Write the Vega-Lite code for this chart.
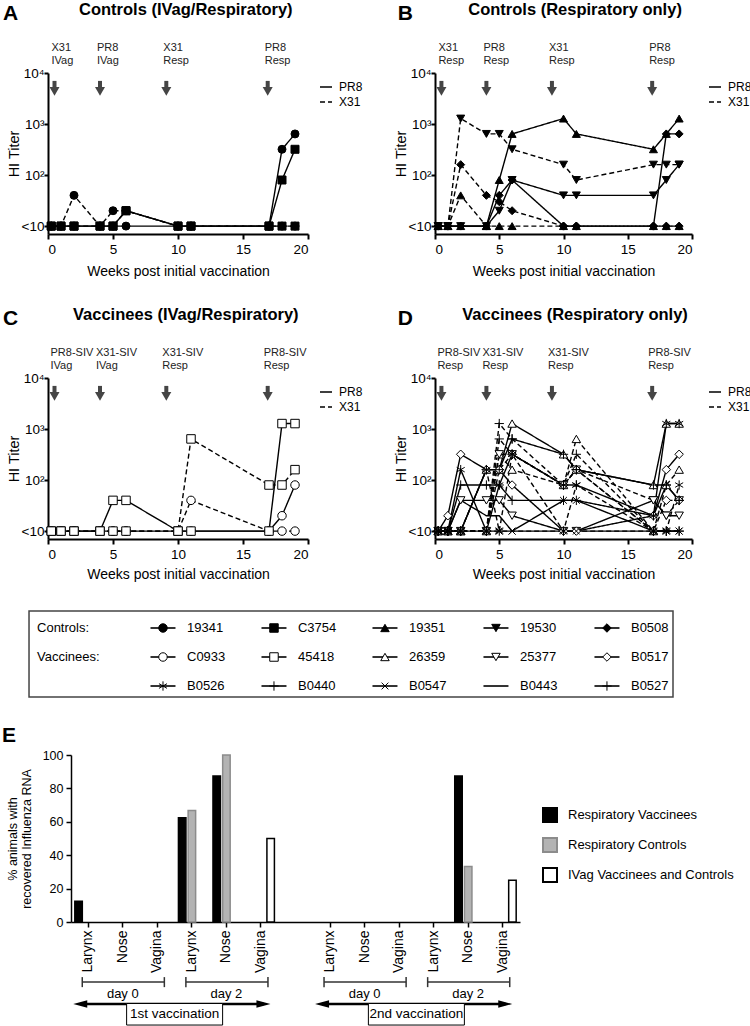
{
"$schema": "https://vega.github.io/schema/vega-lite/v6.json",
"background": "white",
"padding": {"left": 1, "top": 2, "right": 1, "bottom": 1},
"config": {
  "font": "Liberation Sans",
  "view": {"stroke": null},
  "axis": {"domainColor": "black", "tickColor": "black", "labelColor": "black", "titleColor": "black", "grid": false, "domainWidth": 2, "tickWidth": 2, "tickSize": 5, "labelFontSize": 13.5, "titleFontSize": 14, "titleFontWeight": "normal", "labelFont": "Liberation Sans", "titleFont": "Liberation Sans", "labelOverlap": false},
  "axisQuantitative": {"labelOverlap": false},
  "legend": {"labelFont": "Liberation Sans", "labelColor": "black"},
  "text": {"font": "Liberation Sans", "color": "black"}
},
"datasets": {
"hi": [
{"p":"A","a":"19341","s":"PR8","g":"c","w":0.25,"t":10},{"p":"A","a":"19341","s":"PR8","g":"c","w":1,"t":10},{"p":"A","a":"19341","s":"PR8","g":"c","w":2,"t":10},{"p":"A","a":"19341","s":"PR8","g":"c","w":4,"t":10},{"p":"A","a":"19341","s":"PR8","g":"c","w":5,"t":10},{"p":"A","a":"19341","s":"PR8","g":"c","w":6,"t":10},{"p":"A","a":"19341","s":"PR8","g":"c","w":10,"t":10},{"p":"A","a":"19341","s":"PR8","g":"c","w":11,"t":10},{"p":"A","a":"19341","s":"PR8","g":"c","w":17,"t":10},{"p":"A","a":"19341","s":"PR8","g":"c","w":18,"t":320},{"p":"A","a":"19341","s":"PR8","g":"c","w":19,"t":640},
{"p":"A","a":"19341","s":"X31","g":"c","w":0.25,"t":10},{"p":"A","a":"19341","s":"X31","g":"c","w":1,"t":10},{"p":"A","a":"19341","s":"X31","g":"c","w":2,"t":40},{"p":"A","a":"19341","s":"X31","g":"c","w":4,"t":10},{"p":"A","a":"19341","s":"X31","g":"c","w":5,"t":20},{"p":"A","a":"19341","s":"X31","g":"c","w":6,"t":20},{"p":"A","a":"19341","s":"X31","g":"c","w":10,"t":10},{"p":"A","a":"19341","s":"X31","g":"c","w":11,"t":10},{"p":"A","a":"19341","s":"X31","g":"c","w":17,"t":10},{"p":"A","a":"19341","s":"X31","g":"c","w":18,"t":10},{"p":"A","a":"19341","s":"X31","g":"c","w":19,"t":10},
{"p":"A","a":"C3754","s":"PR8","g":"c","w":0.25,"t":10},{"p":"A","a":"C3754","s":"PR8","g":"c","w":1,"t":10},{"p":"A","a":"C3754","s":"PR8","g":"c","w":2,"t":10},{"p":"A","a":"C3754","s":"PR8","g":"c","w":4,"t":10},{"p":"A","a":"C3754","s":"PR8","g":"c","w":5,"t":10},{"p":"A","a":"C3754","s":"PR8","g":"c","w":6,"t":20},{"p":"A","a":"C3754","s":"PR8","g":"c","w":10,"t":10},{"p":"A","a":"C3754","s":"PR8","g":"c","w":11,"t":10},{"p":"A","a":"C3754","s":"PR8","g":"c","w":17,"t":10},{"p":"A","a":"C3754","s":"PR8","g":"c","w":18,"t":80},{"p":"A","a":"C3754","s":"PR8","g":"c","w":19,"t":320},
{"p":"A","a":"C3754","s":"X31","g":"c","w":0.25,"t":10},{"p":"A","a":"C3754","s":"X31","g":"c","w":1,"t":10},{"p":"A","a":"C3754","s":"X31","g":"c","w":2,"t":10},{"p":"A","a":"C3754","s":"X31","g":"c","w":4,"t":10},{"p":"A","a":"C3754","s":"X31","g":"c","w":5,"t":10},{"p":"A","a":"C3754","s":"X31","g":"c","w":6,"t":20},{"p":"A","a":"C3754","s":"X31","g":"c","w":10,"t":10},{"p":"A","a":"C3754","s":"X31","g":"c","w":11,"t":10},{"p":"A","a":"C3754","s":"X31","g":"c","w":17,"t":10},{"p":"A","a":"C3754","s":"X31","g":"c","w":18,"t":10},{"p":"A","a":"C3754","s":"X31","g":"c","w":19,"t":10},
{"p":"B","a":"19351","s":"PR8","g":"c","w":0.25,"t":10},{"p":"B","a":"19351","s":"PR8","g":"c","w":1,"t":10},{"p":"B","a":"19351","s":"PR8","g":"c","w":2,"t":10},{"p":"B","a":"19351","s":"PR8","g":"c","w":4,"t":10},{"p":"B","a":"19351","s":"PR8","g":"c","w":5,"t":80},{"p":"B","a":"19351","s":"PR8","g":"c","w":6,"t":640},{"p":"B","a":"19351","s":"PR8","g":"c","w":10,"t":1280},{"p":"B","a":"19351","s":"PR8","g":"c","w":11,"t":640},{"p":"B","a":"19351","s":"PR8","g":"c","w":17,"t":320},{"p":"B","a":"19351","s":"PR8","g":"c","w":18,"t":640},{"p":"B","a":"19351","s":"PR8","g":"c","w":19,"t":1280},
{"p":"B","a":"19351","s":"X31","g":"c","w":0.25,"t":10},{"p":"B","a":"19351","s":"X31","g":"c","w":1,"t":10},{"p":"B","a":"19351","s":"X31","g":"c","w":2,"t":40},{"p":"B","a":"19351","s":"X31","g":"c","w":4,"t":10},{"p":"B","a":"19351","s":"X31","g":"c","w":5,"t":10},{"p":"B","a":"19351","s":"X31","g":"c","w":6,"t":10},{"p":"B","a":"19351","s":"X31","g":"c","w":10,"t":10},{"p":"B","a":"19351","s":"X31","g":"c","w":11,"t":10},{"p":"B","a":"19351","s":"X31","g":"c","w":17,"t":10},{"p":"B","a":"19351","s":"X31","g":"c","w":18,"t":10},{"p":"B","a":"19351","s":"X31","g":"c","w":19,"t":10},
{"p":"B","a":"19530","s":"PR8","g":"c","w":0.25,"t":10},{"p":"B","a":"19530","s":"PR8","g":"c","w":1,"t":10},{"p":"B","a":"19530","s":"PR8","g":"c","w":2,"t":10},{"p":"B","a":"19530","s":"PR8","g":"c","w":4,"t":10},{"p":"B","a":"19530","s":"PR8","g":"c","w":5,"t":20},{"p":"B","a":"19530","s":"PR8","g":"c","w":6,"t":80},{"p":"B","a":"19530","s":"PR8","g":"c","w":10,"t":40},{"p":"B","a":"19530","s":"PR8","g":"c","w":11,"t":40},{"p":"B","a":"19530","s":"PR8","g":"c","w":17,"t":40},{"p":"B","a":"19530","s":"PR8","g":"c","w":18,"t":80},{"p":"B","a":"19530","s":"PR8","g":"c","w":19,"t":160},
{"p":"B","a":"19530","s":"X31","g":"c","w":0.25,"t":10},{"p":"B","a":"19530","s":"X31","g":"c","w":1,"t":10},{"p":"B","a":"19530","s":"X31","g":"c","w":2,"t":1280},{"p":"B","a":"19530","s":"X31","g":"c","w":4,"t":640},{"p":"B","a":"19530","s":"X31","g":"c","w":5,"t":640},{"p":"B","a":"19530","s":"X31","g":"c","w":6,"t":320},{"p":"B","a":"19530","s":"X31","g":"c","w":10,"t":160},{"p":"B","a":"19530","s":"X31","g":"c","w":11,"t":80},{"p":"B","a":"19530","s":"X31","g":"c","w":17,"t":160},{"p":"B","a":"19530","s":"X31","g":"c","w":18,"t":160},{"p":"B","a":"19530","s":"X31","g":"c","w":19,"t":160},
{"p":"B","a":"B0508","s":"PR8","g":"c","w":0.25,"t":10},{"p":"B","a":"B0508","s":"PR8","g":"c","w":1,"t":10},{"p":"B","a":"B0508","s":"PR8","g":"c","w":2,"t":10},{"p":"B","a":"B0508","s":"PR8","g":"c","w":4,"t":10},{"p":"B","a":"B0508","s":"PR8","g":"c","w":5,"t":40},{"p":"B","a":"B0508","s":"PR8","g":"c","w":6,"t":80},{"p":"B","a":"B0508","s":"PR8","g":"c","w":10,"t":10},{"p":"B","a":"B0508","s":"PR8","g":"c","w":11,"t":10},{"p":"B","a":"B0508","s":"PR8","g":"c","w":17,"t":10},{"p":"B","a":"B0508","s":"PR8","g":"c","w":18,"t":640},{"p":"B","a":"B0508","s":"PR8","g":"c","w":19,"t":640},
{"p":"B","a":"B0508","s":"X31","g":"c","w":0.25,"t":10},{"p":"B","a":"B0508","s":"X31","g":"c","w":1,"t":10},{"p":"B","a":"B0508","s":"X31","g":"c","w":2,"t":160},{"p":"B","a":"B0508","s":"X31","g":"c","w":4,"t":40},{"p":"B","a":"B0508","s":"X31","g":"c","w":5,"t":30},{"p":"B","a":"B0508","s":"X31","g":"c","w":6,"t":20},{"p":"B","a":"B0508","s":"X31","g":"c","w":10,"t":10},{"p":"B","a":"B0508","s":"X31","g":"c","w":11,"t":10},{"p":"B","a":"B0508","s":"X31","g":"c","w":17,"t":10},{"p":"B","a":"B0508","s":"X31","g":"c","w":18,"t":10},{"p":"B","a":"B0508","s":"X31","g":"c","w":19,"t":10},
{"p":"C","a":"C0933","s":"PR8","g":"v","w":0.25,"t":10},{"p":"C","a":"C0933","s":"PR8","g":"v","w":1,"t":10},{"p":"C","a":"C0933","s":"PR8","g":"v","w":2,"t":10},{"p":"C","a":"C0933","s":"PR8","g":"v","w":4,"t":10},{"p":"C","a":"C0933","s":"PR8","g":"v","w":5,"t":10},{"p":"C","a":"C0933","s":"PR8","g":"v","w":6,"t":10},{"p":"C","a":"C0933","s":"PR8","g":"v","w":10,"t":10},{"p":"C","a":"C0933","s":"PR8","g":"v","w":11,"t":10},{"p":"C","a":"C0933","s":"PR8","g":"v","w":17,"t":10},{"p":"C","a":"C0933","s":"PR8","g":"v","w":18,"t":20},{"p":"C","a":"C0933","s":"PR8","g":"v","w":19,"t":80},
{"p":"C","a":"C0933","s":"X31","g":"v","w":0.25,"t":10},{"p":"C","a":"C0933","s":"X31","g":"v","w":1,"t":10},{"p":"C","a":"C0933","s":"X31","g":"v","w":2,"t":10},{"p":"C","a":"C0933","s":"X31","g":"v","w":4,"t":10},{"p":"C","a":"C0933","s":"X31","g":"v","w":5,"t":10},{"p":"C","a":"C0933","s":"X31","g":"v","w":6,"t":10},{"p":"C","a":"C0933","s":"X31","g":"v","w":10,"t":10},{"p":"C","a":"C0933","s":"X31","g":"v","w":11,"t":40},{"p":"C","a":"C0933","s":"X31","g":"v","w":17,"t":10},{"p":"C","a":"C0933","s":"X31","g":"v","w":18,"t":10},{"p":"C","a":"C0933","s":"X31","g":"v","w":19,"t":10},
{"p":"C","a":"45418","s":"PR8","g":"v","w":0.25,"t":10},{"p":"C","a":"45418","s":"PR8","g":"v","w":1,"t":10},{"p":"C","a":"45418","s":"PR8","g":"v","w":2,"t":10},{"p":"C","a":"45418","s":"PR8","g":"v","w":4,"t":10},{"p":"C","a":"45418","s":"PR8","g":"v","w":5,"t":40},{"p":"C","a":"45418","s":"PR8","g":"v","w":6,"t":40},{"p":"C","a":"45418","s":"PR8","g":"v","w":10,"t":10},{"p":"C","a":"45418","s":"PR8","g":"v","w":11,"t":10},{"p":"C","a":"45418","s":"PR8","g":"v","w":17,"t":10},{"p":"C","a":"45418","s":"PR8","g":"v","w":18,"t":1280},{"p":"C","a":"45418","s":"PR8","g":"v","w":19,"t":1280},
{"p":"C","a":"45418","s":"X31","g":"v","w":0.25,"t":10},{"p":"C","a":"45418","s":"X31","g":"v","w":1,"t":10},{"p":"C","a":"45418","s":"X31","g":"v","w":2,"t":10},{"p":"C","a":"45418","s":"X31","g":"v","w":4,"t":10},{"p":"C","a":"45418","s":"X31","g":"v","w":5,"t":10},{"p":"C","a":"45418","s":"X31","g":"v","w":6,"t":10},{"p":"C","a":"45418","s":"X31","g":"v","w":10,"t":10},{"p":"C","a":"45418","s":"X31","g":"v","w":11,"t":640},{"p":"C","a":"45418","s":"X31","g":"v","w":17,"t":80},{"p":"C","a":"45418","s":"X31","g":"v","w":18,"t":80},{"p":"C","a":"45418","s":"X31","g":"v","w":19,"t":160},
{"p":"D","a":"26359","s":"PR8","g":"v","w":0.25,"t":10},{"p":"D","a":"26359","s":"PR8","g":"v","w":1,"t":10},{"p":"D","a":"26359","s":"PR8","g":"v","w":2,"t":10},{"p":"D","a":"26359","s":"PR8","g":"v","w":4,"t":160},{"p":"D","a":"26359","s":"PR8","g":"v","w":5,"t":160},{"p":"D","a":"26359","s":"PR8","g":"v","w":6,"t":1280},{"p":"D","a":"26359","s":"PR8","g":"v","w":10,"t":320},{"p":"D","a":"26359","s":"PR8","g":"v","w":11,"t":160},{"p":"D","a":"26359","s":"PR8","g":"v","w":17,"t":80},{"p":"D","a":"26359","s":"PR8","g":"v","w":18,"t":1280},{"p":"D","a":"26359","s":"PR8","g":"v","w":19,"t":1280},
{"p":"D","a":"26359","s":"X31","g":"v","w":0.25,"t":10},{"p":"D","a":"26359","s":"X31","g":"v","w":1,"t":10},{"p":"D","a":"26359","s":"X31","g":"v","w":2,"t":10},{"p":"D","a":"26359","s":"X31","g":"v","w":4,"t":10},{"p":"D","a":"26359","s":"X31","g":"v","w":5,"t":320},{"p":"D","a":"26359","s":"X31","g":"v","w":6,"t":160},{"p":"D","a":"26359","s":"X31","g":"v","w":10,"t":80},{"p":"D","a":"26359","s":"X31","g":"v","w":11,"t":640},{"p":"D","a":"26359","s":"X31","g":"v","w":17,"t":10},{"p":"D","a":"26359","s":"X31","g":"v","w":18,"t":80},{"p":"D","a":"26359","s":"X31","g":"v","w":19,"t":160},
{"p":"D","a":"25377","s":"PR8","g":"v","w":0.25,"t":10},{"p":"D","a":"25377","s":"PR8","g":"v","w":1,"t":10},{"p":"D","a":"25377","s":"PR8","g":"v","w":2,"t":40},{"p":"D","a":"25377","s":"PR8","g":"v","w":4,"t":40},{"p":"D","a":"25377","s":"PR8","g":"v","w":5,"t":40},{"p":"D","a":"25377","s":"PR8","g":"v","w":6,"t":20},{"p":"D","a":"25377","s":"PR8","g":"v","w":10,"t":10},{"p":"D","a":"25377","s":"PR8","g":"v","w":11,"t":10},{"p":"D","a":"25377","s":"PR8","g":"v","w":17,"t":40},{"p":"D","a":"25377","s":"PR8","g":"v","w":18,"t":20},{"p":"D","a":"25377","s":"PR8","g":"v","w":19,"t":20},
{"p":"D","a":"25377","s":"X31","g":"v","w":0.25,"t":10},{"p":"D","a":"25377","s":"X31","g":"v","w":1,"t":10},{"p":"D","a":"25377","s":"X31","g":"v","w":2,"t":10},{"p":"D","a":"25377","s":"X31","g":"v","w":4,"t":10},{"p":"D","a":"25377","s":"X31","g":"v","w":5,"t":320},{"p":"D","a":"25377","s":"X31","g":"v","w":6,"t":320},{"p":"D","a":"25377","s":"X31","g":"v","w":10,"t":80},{"p":"D","a":"25377","s":"X31","g":"v","w":11,"t":160},{"p":"D","a":"25377","s":"X31","g":"v","w":17,"t":40},{"p":"D","a":"25377","s":"X31","g":"v","w":18,"t":20},{"p":"D","a":"25377","s":"X31","g":"v","w":19,"t":40},
{"p":"D","a":"B0517","s":"PR8","g":"v","w":0.25,"t":10},{"p":"D","a":"B0517","s":"PR8","g":"v","w":1,"t":20},{"p":"D","a":"B0517","s":"PR8","g":"v","w":2,"t":320},{"p":"D","a":"B0517","s":"PR8","g":"v","w":4,"t":160},{"p":"D","a":"B0517","s":"PR8","g":"v","w":5,"t":160},{"p":"D","a":"B0517","s":"PR8","g":"v","w":6,"t":80},{"p":"D","a":"B0517","s":"PR8","g":"v","w":10,"t":10},{"p":"D","a":"B0517","s":"PR8","g":"v","w":11,"t":10},{"p":"D","a":"B0517","s":"PR8","g":"v","w":17,"t":20},{"p":"D","a":"B0517","s":"PR8","g":"v","w":18,"t":160},{"p":"D","a":"B0517","s":"PR8","g":"v","w":19,"t":320},
{"p":"D","a":"B0517","s":"X31","g":"v","w":0.25,"t":10},{"p":"D","a":"B0517","s":"X31","g":"v","w":1,"t":10},{"p":"D","a":"B0517","s":"X31","g":"v","w":2,"t":10},{"p":"D","a":"B0517","s":"X31","g":"v","w":4,"t":10},{"p":"D","a":"B0517","s":"X31","g":"v","w":5,"t":160},{"p":"D","a":"B0517","s":"X31","g":"v","w":6,"t":320},{"p":"D","a":"B0517","s":"X31","g":"v","w":10,"t":80},{"p":"D","a":"B0517","s":"X31","g":"v","w":11,"t":160},{"p":"D","a":"B0517","s":"X31","g":"v","w":17,"t":10},{"p":"D","a":"B0517","s":"X31","g":"v","w":18,"t":40},{"p":"D","a":"B0517","s":"X31","g":"v","w":19,"t":40},
{"p":"D","a":"B0526","s":"PR8","g":"v","w":0.25,"t":10},{"p":"D","a":"B0526","s":"PR8","g":"v","w":1,"t":10},{"p":"D","a":"B0526","s":"PR8","g":"v","w":2,"t":160},{"p":"D","a":"B0526","s":"PR8","g":"v","w":4,"t":10},{"p":"D","a":"B0526","s":"PR8","g":"v","w":5,"t":80},{"p":"D","a":"B0526","s":"PR8","g":"v","w":6,"t":320},{"p":"D","a":"B0526","s":"PR8","g":"v","w":10,"t":80},{"p":"D","a":"B0526","s":"PR8","g":"v","w":11,"t":80},{"p":"D","a":"B0526","s":"PR8","g":"v","w":17,"t":20},{"p":"D","a":"B0526","s":"PR8","g":"v","w":18,"t":1280},{"p":"D","a":"B0526","s":"PR8","g":"v","w":19,"t":1280},
{"p":"D","a":"B0526","s":"X31","g":"v","w":0.25,"t":10},{"p":"D","a":"B0526","s":"X31","g":"v","w":1,"t":10},{"p":"D","a":"B0526","s":"X31","g":"v","w":2,"t":10},{"p":"D","a":"B0526","s":"X31","g":"v","w":4,"t":160},{"p":"D","a":"B0526","s":"X31","g":"v","w":5,"t":10},{"p":"D","a":"B0526","s":"X31","g":"v","w":6,"t":320},{"p":"D","a":"B0526","s":"X31","g":"v","w":10,"t":10},{"p":"D","a":"B0526","s":"X31","g":"v","w":11,"t":80},{"p":"D","a":"B0526","s":"X31","g":"v","w":17,"t":10},{"p":"D","a":"B0526","s":"X31","g":"v","w":18,"t":10},{"p":"D","a":"B0526","s":"X31","g":"v","w":19,"t":80},
{"p":"D","a":"B0440","s":"PR8","g":"v","w":0.25,"t":10},{"p":"D","a":"B0440","s":"PR8","g":"v","w":1,"t":10},{"p":"D","a":"B0440","s":"PR8","g":"v","w":2,"t":80},{"p":"D","a":"B0440","s":"PR8","g":"v","w":4,"t":80},{"p":"D","a":"B0440","s":"PR8","g":"v","w":5,"t":80},{"p":"D","a":"B0440","s":"PR8","g":"v","w":6,"t":40},{"p":"D","a":"B0440","s":"PR8","g":"v","w":10,"t":40},{"p":"D","a":"B0440","s":"PR8","g":"v","w":11,"t":40},{"p":"D","a":"B0440","s":"PR8","g":"v","w":17,"t":20},{"p":"D","a":"B0440","s":"PR8","g":"v","w":18,"t":80},{"p":"D","a":"B0440","s":"PR8","g":"v","w":19,"t":40},
{"p":"D","a":"B0440","s":"X31","g":"v","w":0.25,"t":10},{"p":"D","a":"B0440","s":"X31","g":"v","w":1,"t":10},{"p":"D","a":"B0440","s":"X31","g":"v","w":2,"t":10},{"p":"D","a":"B0440","s":"X31","g":"v","w":4,"t":10},{"p":"D","a":"B0440","s":"X31","g":"v","w":5,"t":1280},{"p":"D","a":"B0440","s":"X31","g":"v","w":6,"t":640},{"p":"D","a":"B0440","s":"X31","g":"v","w":10,"t":80},{"p":"D","a":"B0440","s":"X31","g":"v","w":11,"t":320},{"p":"D","a":"B0440","s":"X31","g":"v","w":17,"t":10},{"p":"D","a":"B0440","s":"X31","g":"v","w":18,"t":10},{"p":"D","a":"B0440","s":"X31","g":"v","w":19,"t":10},
{"p":"D","a":"B0547","s":"PR8","g":"v","w":0.25,"t":10},{"p":"D","a":"B0547","s":"PR8","g":"v","w":1,"t":10},{"p":"D","a":"B0547","s":"PR8","g":"v","w":2,"t":10},{"p":"D","a":"B0547","s":"PR8","g":"v","w":4,"t":10},{"p":"D","a":"B0547","s":"PR8","g":"v","w":5,"t":10},{"p":"D","a":"B0547","s":"PR8","g":"v","w":6,"t":10},{"p":"D","a":"B0547","s":"PR8","g":"v","w":10,"t":40},{"p":"D","a":"B0547","s":"PR8","g":"v","w":11,"t":40},{"p":"D","a":"B0547","s":"PR8","g":"v","w":17,"t":10},{"p":"D","a":"B0547","s":"PR8","g":"v","w":18,"t":10},{"p":"D","a":"B0547","s":"PR8","g":"v","w":19,"t":10},
{"p":"D","a":"B0547","s":"X31","g":"v","w":0.25,"t":10},{"p":"D","a":"B0547","s":"X31","g":"v","w":1,"t":10},{"p":"D","a":"B0547","s":"X31","g":"v","w":2,"t":10},{"p":"D","a":"B0547","s":"X31","g":"v","w":4,"t":10},{"p":"D","a":"B0547","s":"X31","g":"v","w":5,"t":10},{"p":"D","a":"B0547","s":"X31","g":"v","w":6,"t":10},{"p":"D","a":"B0547","s":"X31","g":"v","w":10,"t":10},{"p":"D","a":"B0547","s":"X31","g":"v","w":11,"t":10},{"p":"D","a":"B0547","s":"X31","g":"v","w":17,"t":10},{"p":"D","a":"B0547","s":"X31","g":"v","w":18,"t":10},{"p":"D","a":"B0547","s":"X31","g":"v","w":19,"t":10},
{"p":"D","a":"B0443","s":"PR8","g":"v","w":0.25,"t":10},{"p":"D","a":"B0443","s":"PR8","g":"v","w":1,"t":10},{"p":"D","a":"B0443","s":"PR8","g":"v","w":2,"t":40},{"p":"D","a":"B0443","s":"PR8","g":"v","w":4,"t":20},{"p":"D","a":"B0443","s":"PR8","g":"v","w":5,"t":20},{"p":"D","a":"B0443","s":"PR8","g":"v","w":6,"t":10},{"p":"D","a":"B0443","s":"PR8","g":"v","w":10,"t":10},{"p":"D","a":"B0443","s":"PR8","g":"v","w":11,"t":10},{"p":"D","a":"B0443","s":"PR8","g":"v","w":17,"t":10},{"p":"D","a":"B0443","s":"PR8","g":"v","w":18,"t":10},{"p":"D","a":"B0443","s":"PR8","g":"v","w":19,"t":10},
{"p":"D","a":"B0527","s":"PR8","g":"v","w":0.25,"t":10},{"p":"D","a":"B0527","s":"PR8","g":"v","w":1,"t":10},{"p":"D","a":"B0527","s":"PR8","g":"v","w":2,"t":10},{"p":"D","a":"B0527","s":"PR8","g":"v","w":4,"t":160},{"p":"D","a":"B0527","s":"PR8","g":"v","w":5,"t":160},{"p":"D","a":"B0527","s":"PR8","g":"v","w":6,"t":640},{"p":"D","a":"B0527","s":"PR8","g":"v","w":10,"t":320},{"p":"D","a":"B0527","s":"PR8","g":"v","w":11,"t":160},{"p":"D","a":"B0527","s":"PR8","g":"v","w":17,"t":80},{"p":"D","a":"B0527","s":"PR8","g":"v","w":18,"t":80},{"p":"D","a":"B0527","s":"PR8","g":"v","w":19,"t":40},
{"p":"D","a":"B0527","s":"X31","g":"v","w":0.25,"t":10},{"p":"D","a":"B0527","s":"X31","g":"v","w":1,"t":10},{"p":"D","a":"B0527","s":"X31","g":"v","w":2,"t":10},{"p":"D","a":"B0527","s":"X31","g":"v","w":4,"t":10},{"p":"D","a":"B0527","s":"X31","g":"v","w":5,"t":640},{"p":"D","a":"B0527","s":"X31","g":"v","w":6,"t":320},{"p":"D","a":"B0527","s":"X31","g":"v","w":10,"t":80},{"p":"D","a":"B0527","s":"X31","g":"v","w":11,"t":160},{"p":"D","a":"B0527","s":"X31","g":"v","w":17,"t":10},{"p":"D","a":"B0527","s":"X31","g":"v","w":18,"t":10},{"p":"D","a":"B0527","s":"X31","g":"v","w":19,"t":10}
],
"arrows": [
{"p":"A","w":0.5,"lab":"X31\nIVag"},{"p":"A","w":4,"lab":"PR8\nIVag"},{"p":"A","w":9.1,"lab":"X31\nResp"},{"p":"A","w":16.9,"lab":"PR8\nResp"},
{"p":"B","w":0.5,"lab":"X31\nResp"},{"p":"B","w":4,"lab":"PR8\nResp"},{"p":"B","w":9.1,"lab":"X31\nResp"},{"p":"B","w":16.9,"lab":"PR8\nResp"},
{"p":"C","w":0.5,"lab":"PR8-SIV\nIVag"},{"p":"C","w":4,"lab":"X31-SIV\nIVag"},{"p":"C","w":9.1,"lab":"X31-SIV\nResp"},{"p":"C","w":16.9,"lab":"PR8-SIV\nResp"},
{"p":"D","w":0.5,"lab":"PR8-SIV\nResp"},{"p":"D","w":4,"lab":"X31-SIV\nResp"},{"p":"D","w":9.1,"lab":"X31-SIV\nResp"},{"p":"D","w":16.9,"lab":"PR8-SIV\nResp"}
],
"legend": [
{"a":"19341","c":0,"r":0,"g":"c"},{"a":"C3754","c":1,"r":0,"g":"c"},{"a":"19351","c":2,"r":0,"g":"c"},{"a":"19530","c":3,"r":0,"g":"c"},{"a":"B0508","c":4,"r":0,"g":"c"},
{"a":"C0933","c":0,"r":1,"g":"v"},{"a":"45418","c":1,"r":1,"g":"v"},{"a":"26359","c":2,"r":1,"g":"v"},{"a":"25377","c":3,"r":1,"g":"v"},{"a":"B0517","c":4,"r":1,"g":"v"},
{"a":"B0526","c":0,"r":2,"g":"v"},{"a":"B0440","c":1,"r":2,"g":"v"},{"a":"B0547","c":2,"r":2,"g":"v"},{"a":"B0443","c":3,"r":2,"g":"v"},{"a":"B0527","c":4,"r":2,"g":"v"}
],
"bars": [
{"slot":"L1","ser":"Respiratory Vaccinees","pct":12.5},
{"slot":"L2","ser":"Respiratory Vaccinees","pct":62.5},
{"slot":"L2","ser":"Respiratory Controls","pct":66.7},
{"slot":"N2","ser":"Respiratory Vaccinees","pct":87.5},
{"slot":"N2","ser":"Respiratory Controls","pct":100},
{"slot":"V2","ser":"IVag Vaccinees and Controls","pct":50},
{"slot":"N4","ser":"Respiratory Vaccinees","pct":87.5},
{"slot":"N4","ser":"Respiratory Controls","pct":33.3},
{"slot":"V4","ser":"IVag Vaccinees and Controls","pct":25}
],
"brk": [
{"from":0,"to":2,"mid":1,"lab":"day 0"},{"from":3,"to":5,"mid":4,"lab":"day 2"},{"from":7,"to":9,"mid":8,"lab":"day 0"},{"from":10,"to":12,"mid":11,"lab":"day 2"}
],
"vac": [
{"from":0,"to":5,"mid":2.5,"lab":"1st vaccination"},{"from":7,"to":12,"mid":9.5,"lab":"2nd vaccination"}
]
},
"spacing": 28,
"resolve": {"scale": {"fill": "independent", "stroke": "independent", "shape": "independent", "strokeDash": "independent"}},
"vconcat": [
{
 "hconcat": [
  {
   "width": 260, "height": 161,
   "layer": [
    {"data": {"name": "hi"}, "transform": [{"filter": "datum.p === 'A'"}],
     "mark": {"type": "line", "color": "black", "strokeWidth": 1.4},
     "encoding": {
      "x": {"field": "w", "type": "quantitative", "scale": {"domain": [0, 20], "nice": false, "zero": false}, "axis": {"values": [0,5,10,15,20], "title": "Weeks post initial vaccination", "titlePadding": 9, "labelPadding": 3}},
      "y": {"field": "t", "type": "quantitative", "scale": {"type": "log", "domain": [7, 10000], "nice": false}, "axis": {"values": [10,100,1000,10000], "labelExpr": "datum.value < 50 ? '<10' : datum.value < 500 ? '10²' : datum.value < 5000 ? '10³' : '10⁴'", "title": "HI Titer", "titleFontSize": 14.5, "titlePadding": 0, "labelPadding": 0, "tickSize": 4}},
      "detail": {"field": "a"},
      "strokeDash": {"field": "s", "type": "nominal", "scale": {"domain": ["PR8","X31"], "range": [[1,0],[5,3]]}, "legend": {"orient": "none", "legendX": 271, "legendY": 7, "title": null, "symbolType": "stroke", "symbolSize": 144, "symbolStrokeWidth": 1.5, "symbolStrokeColor": "black", "labelFontSize": 12, "labelOffset": 6, "rowPadding": 2, "padding": 0}}
     }},
    {"data": {"name": "hi"}, "transform": [{"filter": "datum.p === 'A'"}],
     "mark": {"type": "point", "filled": true, "stroke": "black", "strokeWidth": 1, "size": 64, "opacity": 1},
     "encoding": {
      "x": {"field": "w", "type": "quantitative"},
      "y": {"field": "t", "type": "quantitative"},
      "shape": {"field": "a", "type": "nominal", "legend": null, "scale": {"domain": ["19341","C3754","19351","19530","B0508","C0933","45418","26359","25377","B0517","B0526","B0440","B0547","B0443","B0527"], "range": ["circle","square","triangle-up","triangle-down","diamond","circle","square","triangle-up","triangle-down","diamond","M0,-1.1L0,1.1M-0.95,-0.55L0.95,0.55M-0.95,0.55L0.95,-0.55","M-1.1,0L1.1,0M0,-1.1L0,1.1","M-0.8,-0.8L0.8,0.8M-0.8,0.8L0.8,-0.8","M0,0L0,0","M-1.1,0L1.1,0M0,-1.1L0,1.1"]}},
      "fill": {"field": "g", "type": "nominal", "legend": null, "scale": {"domain": ["c","v"], "range": ["black","white"]}}
     }},
    {"data": {"name": "arrows"}, "transform": [{"filter": "datum.p === 'A'"}],
     "mark": {"type": "rule", "color": "#454545", "strokeWidth": 4},
     "encoding": {"x": {"field": "w", "type": "quantitative"}, "y": {"datum": 7000}, "y2": {"datum": 4600}}},
    {"data": {"name": "arrows"}, "transform": [{"filter": "datum.p === 'A'"}],
     "mark": {"type": "point", "shape": "triangle-down", "filled": true, "color": "#454545", "size": 100, "opacity": 1},
     "encoding": {"x": {"field": "w", "type": "quantitative"}, "y": {"datum": 4350}}},
    {"data": {"name": "arrows"}, "transform": [{"filter": "datum.p === 'A'"}],
     "mark": {"type": "text", "align": "left", "baseline": "alphabetic", "dx": -3, "fontSize": 11, "lineBreak": "\n", "lineHeight": 13, "color": "#222222"},
     "encoding": {"x": {"field": "w", "type": "quantitative"}, "y": {"datum": 26900}, "text": {"field": "lab"}}},
    {"data": {"values": [{}]},
     "mark": {"type": "text", "align": "center", "baseline": "alphabetic", "fontSize": 16.5, "fontWeight": "bold", "text": "Controls (IVag/Respiratory)"},
     "encoding": {"x": {"datum": 10.6}, "y": {"datum": 136500}}},
    {"data": {"values": [{}]},
     "mark": {"type": "text", "align": "left", "baseline": "alphabetic", "fontSize": 21, "fontWeight": "bold", "text": "A"},
     "encoding": {"x": {"datum": -3.46}, "y": {"datum": 111400}}}
   ]
  },
  {
   "width": 257, "height": 161,
   "layer": [
    {"data": {"name": "hi"}, "transform": [{"filter": "datum.p === 'B'"}],
     "mark": {"type": "line", "color": "black", "strokeWidth": 1.4},
     "encoding": {
      "x": {"field": "w", "type": "quantitative", "scale": {"domain": [0, 20], "nice": false, "zero": false}, "axis": {"values": [0,5,10,15,20], "title": "Weeks post initial vaccination", "titlePadding": 9, "labelPadding": 3}},
      "y": {"field": "t", "type": "quantitative", "scale": {"type": "log", "domain": [7, 10000], "nice": false}, "axis": {"values": [10,100,1000,10000], "labelExpr": "datum.value < 50 ? '<10' : datum.value < 500 ? '10²' : datum.value < 5000 ? '10³' : '10⁴'", "title": "HI Titer", "titleFontSize": 14.5, "titlePadding": 0, "labelPadding": 0, "tickSize": 4}},
      "detail": {"field": "a"},
      "strokeDash": {"field": "s", "type": "nominal", "scale": {"domain": ["PR8","X31"], "range": [[1,0],[5,3]]}, "legend": {"orient": "none", "legendX": 273, "legendY": 7, "title": null, "symbolType": "stroke", "symbolSize": 144, "symbolStrokeWidth": 1.5, "symbolStrokeColor": "black", "labelFontSize": 12, "labelOffset": 6, "rowPadding": 2, "padding": 0}}
     }},
    {"data": {"name": "hi"}, "transform": [{"filter": "datum.p === 'B'"}],
     "mark": {"type": "point", "filled": true, "stroke": "black", "strokeWidth": 1, "size": 64, "opacity": 1},
     "encoding": {
      "x": {"field": "w", "type": "quantitative"},
      "y": {"field": "t", "type": "quantitative"},
      "shape": {"field": "a", "type": "nominal", "legend": null, "scale": {"domain": ["19341","C3754","19351","19530","B0508","C0933","45418","26359","25377","B0517","B0526","B0440","B0547","B0443","B0527"], "range": ["circle","square","triangle-up","triangle-down","diamond","circle","square","triangle-up","triangle-down","diamond","M0,-1.1L0,1.1M-0.95,-0.55L0.95,0.55M-0.95,0.55L0.95,-0.55","M-1.1,0L1.1,0M0,-1.1L0,1.1","M-0.8,-0.8L0.8,0.8M-0.8,0.8L0.8,-0.8","M0,0L0,0","M-1.1,0L1.1,0M0,-1.1L0,1.1"]}},
      "fill": {"field": "g", "type": "nominal", "legend": null, "scale": {"domain": ["c","v"], "range": ["black","white"]}}
     }},
    {"data": {"name": "arrows"}, "transform": [{"filter": "datum.p === 'B'"}],
     "mark": {"type": "rule", "color": "#454545", "strokeWidth": 4},
     "encoding": {"x": {"field": "w", "type": "quantitative"}, "y": {"datum": 7000}, "y2": {"datum": 4600}}},
    {"data": {"name": "arrows"}, "transform": [{"filter": "datum.p === 'B'"}],
     "mark": {"type": "point", "shape": "triangle-down", "filled": true, "color": "#454545", "size": 100, "opacity": 1},
     "encoding": {"x": {"field": "w", "type": "quantitative"}, "y": {"datum": 4350}}},
    {"data": {"name": "arrows"}, "transform": [{"filter": "datum.p === 'B'"}],
     "mark": {"type": "text", "align": "left", "baseline": "alphabetic", "dx": -3, "fontSize": 11, "lineBreak": "\n", "lineHeight": 13, "color": "#222222"},
     "encoding": {"x": {"field": "w", "type": "quantitative"}, "y": {"datum": 26900}, "text": {"field": "lab"}}},
    {"data": {"values": [{}]},
     "mark": {"type": "text", "align": "center", "baseline": "alphabetic", "fontSize": 16.5, "fontWeight": "bold", "text": "Controls (Respiratory only)"},
     "encoding": {"x": {"datum": 10.9}, "y": {"datum": 136500}}},
    {"data": {"values": [{}]},
     "mark": {"type": "text", "align": "left", "baseline": "alphabetic", "fontSize": 21, "fontWeight": "bold", "text": "B"},
     "encoding": {"x": {"datum": -2.9}, "y": {"datum": 111400}}}
   ]
  }
 ],
 "spacing": 127,
 "bounds": "flush",
 "resolve": {"scale": {"fill": "independent", "shape": "independent", "strokeDash": "independent"}}
},
{
 "hconcat": [
  {
   "width": 260, "height": 161,
   "layer": [
    {"data": {"name": "hi"}, "transform": [{"filter": "datum.p === 'C'"}],
     "mark": {"type": "line", "color": "black", "strokeWidth": 1.4},
     "encoding": {
      "x": {"field": "w", "type": "quantitative", "scale": {"domain": [0, 20], "nice": false, "zero": false}, "axis": {"values": [0,5,10,15,20], "title": "Weeks post initial vaccination", "titlePadding": 7, "labelPadding": 3}},
      "y": {"field": "t", "type": "quantitative", "scale": {"type": "log", "domain": [7, 10000], "nice": false}, "axis": {"values": [10,100,1000,10000], "labelExpr": "datum.value < 50 ? '<10' : datum.value < 500 ? '10²' : datum.value < 5000 ? '10³' : '10⁴'", "title": "HI Titer", "titleFontSize": 14.5, "titlePadding": 0, "labelPadding": 0, "tickSize": 4}},
      "detail": {"field": "a"},
      "strokeDash": {"field": "s", "type": "nominal", "scale": {"domain": ["PR8","X31"], "range": [[1,0],[5,3]]}, "legend": {"orient": "none", "legendX": 271, "legendY": 7, "title": null, "symbolType": "stroke", "symbolSize": 144, "symbolStrokeWidth": 1.5, "symbolStrokeColor": "black", "labelFontSize": 12, "labelOffset": 6, "rowPadding": 2, "padding": 0}}
     }},
    {"data": {"name": "hi"}, "transform": [{"filter": "datum.p === 'C'"}],
     "mark": {"type": "point", "filled": true, "stroke": "black", "strokeWidth": 1, "size": 72, "opacity": 1},
     "encoding": {
      "x": {"field": "w", "type": "quantitative"},
      "y": {"field": "t", "type": "quantitative"},
      "shape": {"field": "a", "type": "nominal", "legend": null, "scale": {"domain": ["19341","C3754","19351","19530","B0508","C0933","45418","26359","25377","B0517","B0526","B0440","B0547","B0443","B0527"], "range": ["circle","square","triangle-up","triangle-down","diamond","circle","square","triangle-up","triangle-down","diamond","M0,-1.1L0,1.1M-0.95,-0.55L0.95,0.55M-0.95,0.55L0.95,-0.55","M-1.1,0L1.1,0M0,-1.1L0,1.1","M-0.8,-0.8L0.8,0.8M-0.8,0.8L0.8,-0.8","M0,0L0,0","M-1.1,0L1.1,0M0,-1.1L0,1.1"]}},
      "fill": {"field": "g", "type": "nominal", "legend": null, "scale": {"domain": ["c","v"], "range": ["black","white"]}}
     }},
    {"data": {"name": "arrows"}, "transform": [{"filter": "datum.p === 'C'"}],
     "mark": {"type": "rule", "color": "#454545", "strokeWidth": 4},
     "encoding": {"x": {"field": "w", "type": "quantitative"}, "y": {"datum": 7000}, "y2": {"datum": 4600}}},
    {"data": {"name": "arrows"}, "transform": [{"filter": "datum.p === 'C'"}],
     "mark": {"type": "point", "shape": "triangle-down", "filled": true, "color": "#454545", "size": 100, "opacity": 1},
     "encoding": {"x": {"field": "w", "type": "quantitative"}, "y": {"datum": 4350}}},
    {"data": {"name": "arrows"}, "transform": [{"filter": "datum.p === 'C'"}],
     "mark": {"type": "text", "align": "left", "baseline": "alphabetic", "dx": -4, "fontSize": 11, "lineBreak": "\n", "lineHeight": 13, "color": "#222222"},
     "encoding": {"x": {"field": "w", "type": "quantitative"}, "y": {"datum": 26900}, "text": {"field": "lab"}}},
    {"data": {"values": [{}]},
     "mark": {"type": "text", "align": "center", "baseline": "alphabetic", "fontSize": 16.5, "fontWeight": "bold", "text": "Vaccinees (IVag/Respiratory)"},
     "encoding": {"x": {"datum": 10.6}, "y": {"datum": 136500}}},
    {"data": {"values": [{}]},
     "mark": {"type": "text", "align": "left", "baseline": "alphabetic", "fontSize": 21, "fontWeight": "bold", "text": "C"},
     "encoding": {"x": {"datum": -3.46}, "y": {"datum": 111400}}}
   ]
  },
  {
   "width": 257, "height": 161,
   "layer": [
    {"data": {"name": "hi"}, "transform": [{"filter": "datum.p === 'D'"}],
     "mark": {"type": "line", "color": "black", "strokeWidth": 1.4},
     "encoding": {
      "x": {"field": "w", "type": "quantitative", "scale": {"domain": [0, 20], "nice": false, "zero": false}, "axis": {"values": [0,5,10,15,20], "title": "Weeks post initial vaccination", "titlePadding": 7, "labelPadding": 3}},
      "y": {"field": "t", "type": "quantitative", "scale": {"type": "log", "domain": [7, 10000], "nice": false}, "axis": {"values": [10,100,1000,10000], "labelExpr": "datum.value < 50 ? '<10' : datum.value < 500 ? '10²' : datum.value < 5000 ? '10³' : '10⁴'", "title": "HI Titer", "titleFontSize": 14.5, "titlePadding": 0, "labelPadding": 0, "tickSize": 4}},
      "detail": {"field": "a"},
      "strokeDash": {"field": "s", "type": "nominal", "scale": {"domain": ["PR8","X31"], "range": [[1,0],[5,3]]}, "legend": {"orient": "none", "legendX": 273, "legendY": 7, "title": null, "symbolType": "stroke", "symbolSize": 144, "symbolStrokeWidth": 1.5, "symbolStrokeColor": "black", "labelFontSize": 12, "labelOffset": 6, "rowPadding": 2, "padding": 0}}
     }},
    {"data": {"name": "hi"}, "transform": [{"filter": "datum.p === 'D'"}],
     "mark": {"type": "point", "filled": true, "stroke": "black", "strokeWidth": 1, "size": 72, "opacity": 1},
     "encoding": {
      "x": {"field": "w", "type": "quantitative"},
      "y": {"field": "t", "type": "quantitative"},
      "shape": {"field": "a", "type": "nominal", "legend": null, "scale": {"domain": ["19341","C3754","19351","19530","B0508","C0933","45418","26359","25377","B0517","B0526","B0440","B0547","B0443","B0527"], "range": ["circle","square","triangle-up","triangle-down","diamond","circle","square","triangle-up","triangle-down","diamond","M0,-1.1L0,1.1M-0.95,-0.55L0.95,0.55M-0.95,0.55L0.95,-0.55","M-1.1,0L1.1,0M0,-1.1L0,1.1","M-0.8,-0.8L0.8,0.8M-0.8,0.8L0.8,-0.8","M0,0L0,0","M-1.1,0L1.1,0M0,-1.1L0,1.1"]}},
      "fill": {"field": "g", "type": "nominal", "legend": null, "scale": {"domain": ["c","v"], "range": ["black","white"]}}
     }},
    {"data": {"name": "arrows"}, "transform": [{"filter": "datum.p === 'D'"}],
     "mark": {"type": "rule", "color": "#454545", "strokeWidth": 4},
     "encoding": {"x": {"field": "w", "type": "quantitative"}, "y": {"datum": 7000}, "y2": {"datum": 4600}}},
    {"data": {"name": "arrows"}, "transform": [{"filter": "datum.p === 'D'"}],
     "mark": {"type": "point", "shape": "triangle-down", "filled": true, "color": "#454545", "size": 100, "opacity": 1},
     "encoding": {"x": {"field": "w", "type": "quantitative"}, "y": {"datum": 4350}}},
    {"data": {"name": "arrows"}, "transform": [{"filter": "datum.p === 'D'"}],
     "mark": {"type": "text", "align": "left", "baseline": "alphabetic", "dx": -4, "fontSize": 11, "lineBreak": "\n", "lineHeight": 13, "color": "#222222"},
     "encoding": {"x": {"field": "w", "type": "quantitative"}, "y": {"datum": 26900}, "text": {"field": "lab"}}},
    {"data": {"values": [{}]},
     "mark": {"type": "text", "align": "center", "baseline": "alphabetic", "fontSize": 16.5, "fontWeight": "bold", "text": "Vaccinees (Respiratory only)"},
     "encoding": {"x": {"datum": 10.9}, "y": {"datum": 136500}}},
    {"data": {"values": [{}]},
     "mark": {"type": "text", "align": "left", "baseline": "alphabetic", "fontSize": 21, "fontWeight": "bold", "text": "D"},
     "encoding": {"x": {"datum": -2.9}, "y": {"datum": 111400}}}
   ]
  }
 ],
 "spacing": 127,
 "bounds": "flush",
 "resolve": {"scale": {"fill": "independent", "shape": "independent", "strokeDash": "independent"}}
},
{
 "vconcat": [
  {
   "width": 625, "height": 86,
   "layer": [
    {"data": {"values": [{}]},
     "mark": {"type": "rect", "fill": "white", "stroke": "#444444", "strokeWidth": 1.5},
     "encoding": {
      "x": {"datum": -1.207, "type": "quantitative", "scale": {"domain": [-1.036, 4.595], "nice": false, "zero": false}, "axis": null},
      "x2": {"datum": 4.595},
      "y": {"datum": -0.586, "type": "quantitative", "scale": {"domain": [-0.586, 2.379], "nice": false, "zero": false, "reverse": true}, "axis": null},
      "y2": {"datum": 2.379}
     }},
    {"data": {"values": [{"r": 0, "lab": "Controls:"}, {"r": 1, "lab": "Vaccinees:"}]},
     "mark": {"type": "text", "align": "left", "baseline": "middle", "fontSize": 13},
     "encoding": {"x": {"datum": -1.135}, "y": {"field": "r", "type": "quantitative"}, "text": {"field": "lab"}}},
    {"data": {"name": "legend"},
     "mark": {"type": "point", "shape": "M-1,0L1,0", "size": 625, "filled": false, "color": "black", "strokeWidth": 1.6, "opacity": 1},
     "encoding": {"x": {"field": "c", "type": "quantitative"}, "y": {"field": "r", "type": "quantitative"}}},
    {"data": {"name": "legend"},
     "mark": {"type": "point", "filled": true, "stroke": "black", "strokeWidth": 1, "size": 72, "opacity": 1},
     "encoding": {
      "x": {"field": "c", "type": "quantitative"},
      "y": {"field": "r", "type": "quantitative"},
      "shape": {"field": "a", "type": "nominal", "legend": null, "scale": {"domain": ["19341","C3754","19351","19530","B0508","C0933","45418","26359","25377","B0517","B0526","B0440","B0547","B0443","B0527"], "range": ["circle","square","triangle-up","triangle-down","diamond","circle","square","triangle-up","triangle-down","diamond","M0,-1.1L0,1.1M-0.95,-0.55L0.95,0.55M-0.95,0.55L0.95,-0.55","M-1.1,0L1.1,0M0,-1.1L0,1.1","M-0.8,-0.8L0.8,0.8M-0.8,0.8L0.8,-0.8","M0,0L0,0","M-1.1,0L1.1,0M0,-1.1L0,1.1"]}},
      "fill": {"field": "g", "type": "nominal", "legend": null, "scale": {"domain": ["c","v"], "range": ["black","white"]}}
     }},
    {"data": {"name": "legend"},
     "mark": {"type": "text", "align": "left", "baseline": "middle", "dx": 24, "fontSize": 13},
     "encoding": {"x": {"field": "c", "type": "quantitative"}, "y": {"field": "r", "type": "quantitative"}, "text": {"field": "a"}}}
   ]
  },
  {
   "width": 472, "height": 167,
   "resolve": {"scale": {"x": "independent"}},
   "layer": [
    {"data": {"name": "bars"},
     "mark": {"type": "bar", "strokeWidth": 1.5},
     "encoding": {
      "x": {"field": "slot", "type": "nominal", "scale": {"domain": ["L1","N1","V1","L2","N2","V2","G","L3","N3","V3","L4","N4","V4"], "range": [23, 472], "paddingInner": 0, "paddingOuter": 0}, "axis": {"values": ["L1","N1","V1","L2","N2","V2","L3","N3","V3","L4","N4","V4"], "labelExpr": "substring(datum.value,0,1) == 'L' ? 'Larynx' : substring(datum.value,0,1) == 'N' ? 'Nose' : 'Vagina'", "labelAngle": 270, "title": null, "labelFontSize": 14, "labelPadding": 3, "domainWidth": 1.5, "tickWidth": 1.5}},
      "xOffset": {"field": "ser", "type": "nominal", "scale": {"domain": ["Respiratory Vaccinees","Respiratory Controls","IVag Vaccinees and Controls"], "paddingInner": 0.227, "paddingOuter": 0.394}},
      "y": {"field": "pct", "type": "quantitative", "scale": {"domain": [0, 100], "nice": false}, "axis": {"tickCount": 5, "offset": -23, "format": "d", "title": ["% animals with", "recovered Influenza RNA"], "titleFontSize": 12.5, "titleLineHeight": 14, "titlePadding": 9, "labelFontSize": 12.5, "labelPadding": 3, "labelOverlap": false, "labelSeparation": 0, "labelFlush": false, "labelBound": false, "domainWidth": 1.5, "tickWidth": 1.5}},
      "fill": {"field": "ser", "type": "nominal", "scale": {"domain": ["Respiratory Vaccinees","Respiratory Controls","IVag Vaccinees and Controls"], "range": ["black","#b3b3b3","white"]}, "legend": {"orient": "none", "legendX": 494, "legendY": 52, "title": null, "symbolType": "square", "symbolSize": 196, "symbolStrokeWidth": 2, "labelFontSize": 13, "labelOffset": 10, "labelLimit": 400, "rowPadding": 8, "padding": 0}},
      "stroke": {"field": "ser", "type": "nominal", "scale": {"domain": ["Respiratory Vaccinees","Respiratory Controls","IVag Vaccinees and Controls"], "range": ["black","#8c8c8c","black"]}, "legend": {"orient": "none", "legendX": 494, "legendY": 52, "title": null, "symbolType": "square", "symbolSize": 196, "symbolStrokeWidth": 2, "labelFontSize": 13, "labelOffset": 10, "labelLimit": 400, "rowPadding": 8, "padding": 0}}
     }},
    {
     "layer": [
      {"data": {"name": "brk"},
       "mark": {"type": "rule", "color": "#333333", "strokeWidth": 1.5, "xOffset": -6, "x2Offset": 7},
       "encoding": {"x": {"field": "from", "type": "quantitative", "scale": {"domain": [-0.5, 12.5], "range": [23, 472], "nice": false, "zero": false}, "axis": null}, "x2": {"field": "to"}, "y": {"datum": -35.9}}},
      {"data": {"name": "brk"},
       "mark": {"type": "rule", "color": "#333333", "strokeWidth": 1.5, "xOffset": -6},
       "encoding": {"x": {"field": "from", "type": "quantitative"}, "y": {"datum": -33}, "y2": {"datum": -39}}},
      {"data": {"name": "brk"},
       "mark": {"type": "rule", "color": "#333333", "strokeWidth": 1.5, "xOffset": 7},
       "encoding": {"x": {"field": "to", "type": "quantitative"}, "y": {"datum": -33}, "y2": {"datum": -39}}},
      {"data": {"name": "brk"},
       "mark": {"type": "text", "fontSize": 13, "baseline": "middle"},
       "encoding": {"x": {"field": "mid", "type": "quantitative"}, "y": {"datum": -43}, "text": {"field": "lab"}}},
      {"data": {"name": "vac"},
       "mark": {"type": "rule", "color": "black", "strokeWidth": 2.5, "xOffset": -8, "x2Offset": 3},
       "encoding": {"x": {"field": "from", "type": "quantitative"}, "x2": {"field": "to"}, "y": {"datum": -49.1}}},
      {"data": {"name": "vac"},
       "mark": {"type": "point", "shape": "M-1,0L1,-0.55L1,0.55Z", "size": 196, "filled": true, "color": "black", "opacity": 1, "xOffset": -8},
       "encoding": {"x": {"field": "from", "type": "quantitative"}, "y": {"datum": -49.1}}},
      {"data": {"name": "vac"},
       "mark": {"type": "point", "shape": "M1,0L-1,-0.55L-1,0.55Z", "size": 196, "filled": true, "color": "black", "opacity": 1, "xOffset": 2.5},
       "encoding": {"x": {"field": "to", "type": "quantitative"}, "y": {"datum": -49.1}}},
      {"data": {"name": "vac"},
       "mark": {"type": "rect", "fill": "white", "stroke": "black", "strokeWidth": 1, "xOffset": -48, "x2Offset": 48},
       "encoding": {"x": {"field": "mid", "type": "quantitative"}, "x2": {"field": "mid"}, "y": {"datum": -48.8}, "y2": {"datum": -61.7}}},
      {"data": {"name": "vac"},
       "mark": {"type": "text", "fontSize": 13.5, "baseline": "middle"},
       "encoding": {"x": {"field": "mid", "type": "quantitative"}, "y": {"datum": -55.3}, "text": {"field": "lab"}}},
      {"data": {"values": [{}]},
       "mark": {"type": "text", "text": "E", "fontSize": 21, "fontWeight": "bold", "align": "left", "baseline": "alphabetic"},
       "encoding": {"x": {"datum": -2.5}, "y": {"datum": 107.8}}}
     ]
    }
   ]
  }
 ],
 "spacing": 26,
 "resolve": {"scale": {"fill": "independent", "stroke": "independent", "shape": "independent"}}
}
]
}
